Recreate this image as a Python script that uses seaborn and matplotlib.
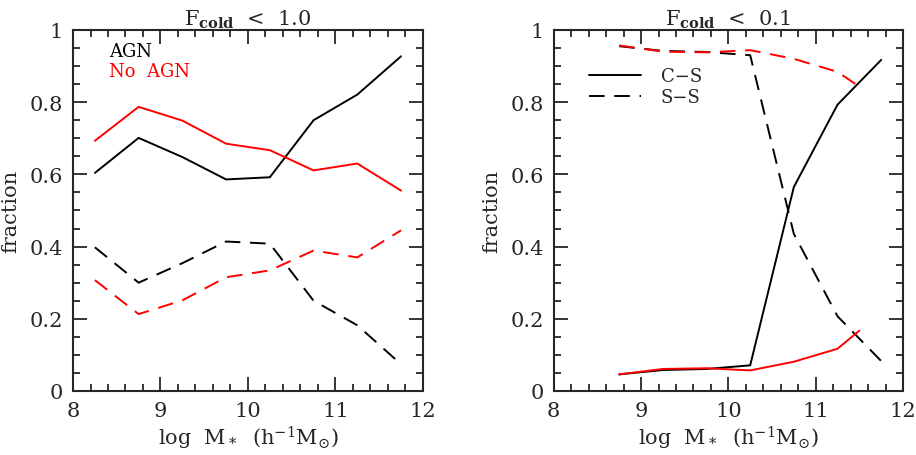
import numpy as np
import pandas as pd
import matplotlib
matplotlib.use('Agg')
import matplotlib.pyplot as plt
import seaborn as sns
from matplotlib.ticker import MultipleLocator, FixedLocator

# left panel: F_cold < 1.0
mass_left = [8.25, 8.75, 9.25, 9.75, 10.25, 10.75, 11.25, 11.75]
agn_cs = [0.604, 0.701, 0.648, 0.586, 0.592, 0.750, 0.821, 0.927]
agn_ss = [0.398, 0.300, 0.354, 0.414, 0.408, 0.250, 0.182, 0.074]
noagn_cs = [0.693, 0.787, 0.749, 0.685, 0.667, 0.611, 0.630, 0.555]
noagn_ss = [0.307, 0.213, 0.251, 0.315, 0.334, 0.389, 0.370, 0.445]

# right panel: F_cold < 0.1
mass_agn_right = [8.75, 9.25, 9.75, 10.25, 10.75, 11.25, 11.75]
agn_cs_r = [0.046, 0.058, 0.061, 0.071, 0.565, 0.793, 0.917]
agn_ss_r = [0.955, 0.942, 0.939, 0.930, 0.435, 0.207, 0.083]
mass_noagn_right = [8.75, 9.25, 9.75, 10.25, 10.75, 11.25, 11.5]
noagn_cs_r = [0.046, 0.061, 0.063, 0.057, 0.081, 0.117, 0.167]
noagn_ss_r = [0.957, 0.940, 0.938, 0.944, 0.920, 0.884, 0.843]

ytick_labels = ['0', '0.2', '0.4', '0.6', '0.8', '1']

sns.set_style('ticks')
plt.rcParams['font.family'] = ['DejaVu Serif']
plt.rcParams['mathtext.fontset'] = 'dejavuserif'

fig = plt.figure(figsize=(9.16, 4.56), dpi=100)
ax1 = fig.add_axes([0.0797, 0.1404, 0.382, 0.7917])
ax2 = fig.add_axes([0.6045, 0.1404, 0.3813, 0.7917])

dash = (0, (8, 5))
lw = 1.4

left = pd.DataFrame({'mass': mass_left, 'agn_cs': agn_cs, 'agn_ss': agn_ss,
                     'noagn_cs': noagn_cs, 'noagn_ss': noagn_ss})
sns.lineplot(data=left, x='mass', y='agn_cs', color='black', lw=lw, ax=ax1)
sns.lineplot(data=left, x='mass', y='agn_ss', color='black', lw=lw, linestyle=dash, ax=ax1)
sns.lineplot(data=left, x='mass', y='noagn_cs', color='red', lw=lw, ax=ax1)
sns.lineplot(data=left, x='mass', y='noagn_ss', color='red', lw=lw, linestyle=dash, ax=ax1)

right_a = pd.DataFrame({'mass': mass_agn_right, 'cs': agn_cs_r, 'ss': agn_ss_r})
right_n = pd.DataFrame({'mass': mass_noagn_right, 'cs': noagn_cs_r, 'ss': noagn_ss_r})
sns.lineplot(data=right_a, x='mass', y='cs', color='black', lw=lw, ax=ax2, label='C\u2212S')
sns.lineplot(data=right_a, x='mass', y='ss', color='black', lw=lw, linestyle=dash, ax=ax2, label='S\u2212S')
sns.lineplot(data=right_n, x='mass', y='ss', color='red', lw=lw, linestyle=dash, ax=ax2)
sns.lineplot(data=right_n, x='mass', y='cs', color='red', lw=lw, ax=ax2)

ax1.text(0.103, 0.943, 'AGN', color='black', fontsize=13, transform=ax1.transAxes, va='center')
ax1.text(0.103, 0.887, 'No  AGN', color='red', fontsize=13, transform=ax1.transAxes, va='center')

leg = ax2.legend(loc='upper left', bbox_to_anchor=(0.10, 0.897), frameon=False, fontsize=13,
                 handlelength=2.9, handletextpad=1.1, labelspacing=0.18, borderaxespad=0,
                 borderpad=0)

titles = [r'F$_{\mathbf{cold}}$  <  1.0', r'F$_{\mathbf{cold}}$  <  0.1']
for ax, t in zip([ax1, ax2], titles):
    ax.set_xlim(8, 12)
    ax.set_ylim(0, 1)
    ax.xaxis.set_major_locator(MultipleLocator(1))
    ax.xaxis.set_minor_locator(MultipleLocator(0.2))
    ax.yaxis.set_major_locator(FixedLocator([0, 0.2, 0.4, 0.6, 0.8, 1.0]))
    ax.yaxis.set_minor_locator(MultipleLocator(0.05))
    ax.set_yticklabels(ytick_labels)
    ax.tick_params(which='both', direction='in', top=True, right=True, width=1.3, labelsize=15)
    ax.tick_params(which='major', length=10, pad=7)
    ax.tick_params(which='minor', length=5)
    for s in ax.spines.values():
        s.set_linewidth(1.5)
    ax.set_xlabel(r'log  M$_*$  (h$^{-1}$M$_{\odot}$)', fontsize=15, labelpad=3)
    ax.set_ylabel('fraction', fontsize=15, labelpad=7)
    ax.set_title(t, fontsize=15, pad=2)

fig.savefig('out.png', dpi=100)
